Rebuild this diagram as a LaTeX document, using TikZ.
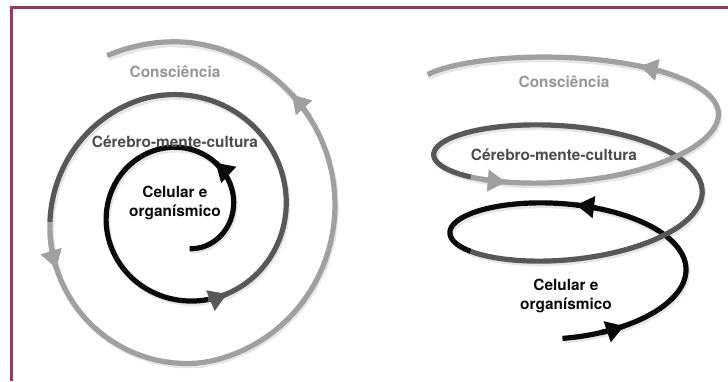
\documentclass[tikz,border=0pt]{standalone}
\usepackage{fontspec}
\setmainfont{TeX Gyre Heros}
\usetikzlibrary{arrows.meta}
\definecolor{framec}{RGB}{155,55,95}
\definecolor{lgray}{RGB}{160,160,160}
\definecolor{dgray}{RGB}{88,88,88}
\definecolor{blk}{RGB}{10,10,10}
\definecolor{shad}{RGB}{230,230,230}
\definecolor{ltext}{RGB}{150,150,150}
\definecolor{dtext}{RGB}{75,75,75}
\newcommand\lspir[2]{plot[domain=#1:#2,samples=90,variable=\t]({183-8*max(0,1-abs(\t-640)/170)+(50+0.147*\t)*cos(\t)},{170-10*max(0,1-abs(\t-640)/170)+(50+0.147*\t)*sin(\t)})}
\newcommand\rspir[2]{plot[domain=#1:#2,samples=90,variable=\t]({572+(114+0.045*\t)*cos(\t)},{110+0.2167*\t-0.05*max(0,\t-720)+(47-0.03*max(0,\t-650))*sin(\t)})}
\begin{document}
\begin{tikzpicture}[x=1pt,y=1pt,
  strand/.style={line width=5.2pt},
  tipend/.style={line width=5.2pt,-{Triangle[length=18pt,width=21pt]}},
  lbl/.style={font=\fontsize{15.4}{19}\selectfont\bfseries, align=center, inner sep=0pt}]
\useasboundingbox (0,0) rectangle (728,381);
\fill[white] (0,0) rectangle (728,381);
\draw[framec, line width=3pt] (11,0) -- (11,373.5) -- (728,373.5);
% shadows
\begin{scope}[shift={(1.5,-2.5)}]
  \draw[strand, shad] \lspir{-80}{836};
  \draw[strand, shad] \rspir{-95}{880};
\end{scope}
% left spiral
\draw[strand, blk] \lspir{-80}{286};
\draw[strand, dgray] \lspir{286}{543};
\draw[strand, lgray] \lspir{543}{836};
\draw[tipend, blk] \lspir{40}{56};
\draw[tipend, dgray] \lspir{286}{298};
\draw[tipend, lgray] \lspir{548}{563};
\draw[tipend, lgray] \lspir{757}{767};
% right helix
\draw[strand, blk] \rspir{-95}{215};
\draw[strand, dgray] \rspir{215}{584};
\draw[strand, lgray] \rspir{584}{880};
\draw[tipend, blk] \rspir{-75}{-62};
\draw[tipend, blk] \rspir{78}{88};
\draw[tipend, lgray] \rspir{590}{602};
\draw[tipend, lgray] \rspir{773}{783};
% labels
\node[lbl, ltext] (lcons) at (175,309) {Consciência};
\node[lbl, dtext] (lcer) at (175,239) {Cérebro-mente-cultura};
\node[lbl, blk] (lcel) at (175,178) {Celular e\\organísmico};
\node[lbl, ltext] (rcons) at (564,299) {Consciência};
\node[lbl, dtext] (rcer) at (554,226) {Cérebro-mente-cultura};
\node[lbl, blk] (rcel) at (566,85) {Celular e\\organísmico};
\end{tikzpicture}
\end{document}
